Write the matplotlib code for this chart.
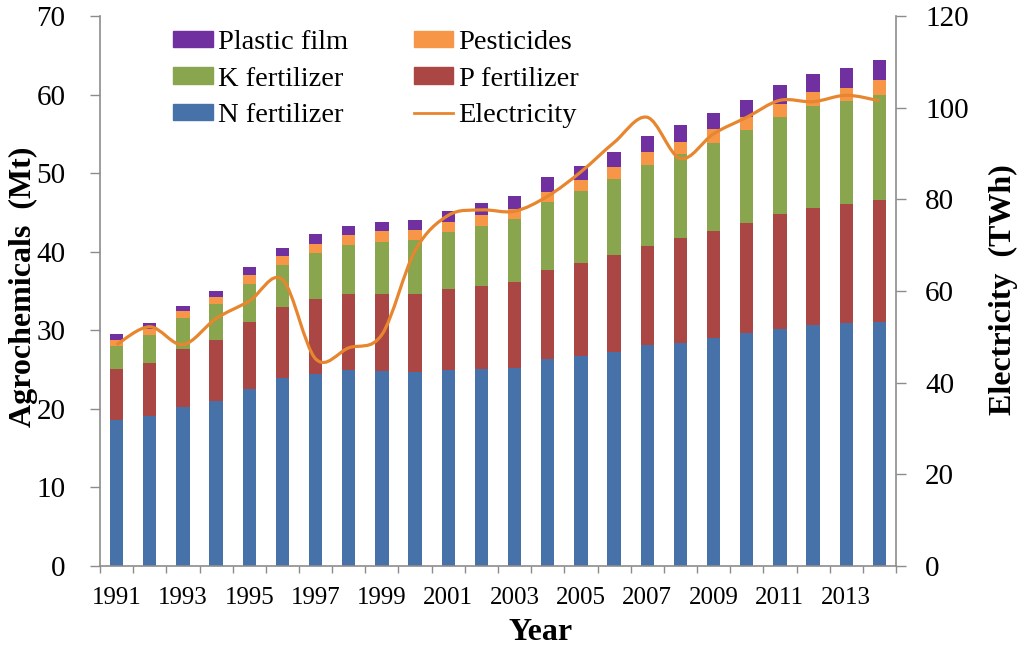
import numpy as np
import matplotlib.pyplot as plt
from matplotlib.path import Path
from matplotlib.patches import PathPatch
from matplotlib.lines import Line2D

plt.rcParams['font.family'] = ['Liberation Serif', 'DejaVu Serif']

years = list(range(1991, 2015))
# layer sizes (Mt)
n_fert = [18.6, 19.1, 20.2, 21.0, 22.5, 23.9, 24.4, 25.0, 24.8, 24.7, 24.9, 25.1,
          25.2, 26.3, 26.7, 27.3, 28.1, 28.4, 29.0, 29.6, 30.2, 30.7, 30.9, 31.0]
p_fert = [6.5, 6.8, 7.4, 7.8, 8.5, 9.1, 9.6, 9.6, 9.8, 9.9, 10.4, 10.6,
          10.9, 11.4, 11.9, 12.3, 12.6, 13.3, 13.7, 14.0, 14.6, 14.9, 15.2, 15.6]
k_fert = [2.9, 3.5, 4.0, 4.5, 4.9, 5.3, 5.8, 6.3, 6.7, 6.9, 7.2, 7.6,
          8.1, 8.6, 9.1, 9.7, 10.4, 10.7, 11.2, 11.9, 12.3, 12.9, 13.1, 13.4]
pesticides = [0.8, 0.8, 0.8, 1.0, 1.2, 1.1, 1.2, 1.2, 1.3, 1.3, 1.3, 1.4,
              1.3, 1.3, 1.4, 1.5, 1.6, 1.6, 1.7, 1.7, 1.7, 1.8, 1.7, 1.8]
plastic_film = [0.7, 0.7, 0.7, 0.7, 0.9, 1.1, 1.2, 1.2, 1.2, 1.2, 1.4, 1.5,
                1.6, 1.9, 1.8, 1.9, 2.0, 2.1, 2.1, 2.1, 2.4, 2.3, 2.5, 2.6]
electricity = [48.3, 52.2, 48.3, 54.0, 57.8, 62.5, 45.2, 47.6, 50.5, 68.8, 76.5, 77.7,
               77.4, 80.7, 86.0, 92.4, 97.9, 88.9, 94.3, 97.9, 101.6, 101.3, 102.7, 101.5]

c_n = '#4672A9'
c_p = '#AA4643'
c_k = '#89A54E'
c_pest = '#F79646'
c_plast = '#7030A0'
c_elec = '#E8862F'
spine_c = '#8C8C8C'

fig = plt.figure(figsize=(10.24, 6.51), dpi=100)
ax = fig.add_axes([100 / 1024, 85 / 651, 796 / 1024, 550 / 651])
ax2 = ax.twinx()

x = np.arange(len(years))
w = 0.40
bottom = np.zeros(len(years))
for vals, col in [(n_fert, c_n), (p_fert, c_p), (k_fert, c_k),
                  (pesticides, c_pest), (plastic_film, c_plast)]:
    ax.bar(x, vals, w, bottom=bottom, color=col, zorder=2)
    bottom += np.array(vals)

# smooth line through the points (cubic bezier, like Excel's smoothed line)
pts = np.column_stack([x, electricity])
verts = [pts[0]]
codes = [Path.MOVETO]
for i in range(len(pts) - 1):
    p0 = pts[i - 1] if i > 0 else pts[i]
    p1 = pts[i]
    p2 = pts[i + 1]
    p3 = pts[i + 2] if i + 2 < len(pts) else pts[i + 1]
    verts += [p1 + (p2 - p0) / 6, p2 - (p3 - p1) / 6, p2]
    codes += [Path.CURVE4] * 3
ax2.add_patch(PathPatch(Path(verts, codes), facecolor='none', edgecolor=c_elec,
                        lw=2.3, zorder=3))

ax.set_xlim(-0.5, len(years) - 0.5)
ax.set_ylim(0, 70)
ax2.set_ylim(0, 120)
ax.set_yticks(range(0, 71, 10))
ax2.set_yticks(range(0, 121, 20))
ax.set_xticks(x[::2])
ax.set_xticklabels([str(y) for y in years[::2]])
ax.set_xticks(np.arange(-0.5, len(years), 1), minor=True)

for a in (ax, ax2):
    a.spines['top'].set_visible(False)
    for s in ('left', 'right', 'bottom'):
        a.spines[s].set_color(spine_c)
        a.spines[s].set_linewidth(1.2)
ax.spines['right'].set_visible(False)
ax2.spines['left'].set_visible(False)
ax2.spines['bottom'].set_visible(False)
ax.tick_params(axis='y', length=7, width=1.0, color=spine_c, labelsize=21, pad=18)
ax2.tick_params(axis='y', length=7, width=1.0, color=spine_c, labelsize=21, pad=14)
ax.tick_params(axis='x', which='major', length=0, labelsize=18, pad=15)
ax.tick_params(axis='x', which='minor', length=5, width=1.0, color=spine_c)

fig.text(23 / 1024, 1 - 287 / 651, 'Agrochemicals  (Mt)', rotation=90,
         ha='center', va='center', fontsize=23, fontweight='bold')
fig.text(1003 / 1024, 1 - 290 / 651, 'Electricity  (TWh)', rotation=90,
         ha='center', va='center', fontsize=23, fontweight='bold')
fig.text(541 / 1024, 1 - 632 / 651, 'Year', ha='center', va='center',
         fontsize=23, fontweight='bold')

handles = [plt.Rectangle((0, 0), 1, 1, color=c_plast),
           plt.Rectangle((0, 0), 1, 1, color=c_k),
           plt.Rectangle((0, 0), 1, 1, color=c_n),
           plt.Rectangle((0, 0), 1, 1, color=c_pest),
           plt.Rectangle((0, 0), 1, 1, color=c_p),
           Line2D([0], [0], color=c_elec, lw=2)]
labels = ['Plastic film', 'K fertilizer', 'N fertilizer',
          'Pesticides', 'P fertilizer', 'Electricity']
ax.legend(handles, labels, ncol=2, loc='upper left', bbox_to_anchor=(0.0917, 0.974),
          frameon=False, fontsize=20.5, handlelength=1.4, handleheight=0.5,
          handletextpad=0.18, columnspacing=2.3, labelspacing=0.4,
          borderaxespad=0, borderpad=0)

fig.savefig('out.png', dpi=100)
